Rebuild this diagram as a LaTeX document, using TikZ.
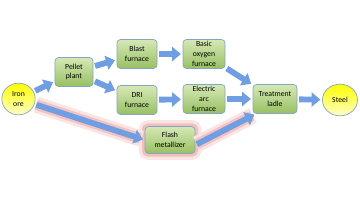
\documentclass[tikz,border=0pt]{standalone}
\usepackage{fontspec}
\setmainfont{Carlito}
\usetikzlibrary{shapes.geometric,arrows.meta,positioning,backgrounds}

\definecolor{boxtop}{RGB}{214,232,182}
\definecolor{boxbot}{RGB}{152,192,98}
\definecolor{boxline}{RGB}{135,165,195}
\definecolor{arrowblue}{RGB}{112,158,226}
\definecolor{glowred}{RGB}{228,110,110}

\begin{document}
\begin{tikzpicture}[
    x=0.03cm, y=-0.03cm,
    % --- STYLES ---
    stage/.style={
        rectangle, rounded corners=3pt,
        draw=boxline, line width=0.6pt,
        top color=boxtop, bottom color=boxbot,
        minimum width=1.2cm,
        minimum height=0.87cm,
        align=center, font=\fontsize{6.6}{8.3}\selectfont,
        inner sep=1pt
    },
    terminal/.style={
        ellipse, draw=boxline, line width=0.6pt,
        top color=yellow, bottom color=yellow!22!white,
        minimum width=1cm, minimum height=0.95cm,
        align=center, font=\fontsize{6.6}{8.3}\selectfont,
        inner sep=0pt
    },
    glow/.style={
        preaction={draw=glowred!18, line width=11pt},
        preaction={draw=glowred!45, line width=5.5pt}
    },
    glowline/.style={
        preaction={draw=glowred!18, line width=14pt, -, shorten >=3pt},
        preaction={draw=glowred!42, line width=9pt, -, shorten >=4pt}
    },
    flow/.style={
        draw=arrowblue, line width=5pt,
        -{Triangle[width=12pt, length=7.5pt]},
        shorten <=1.5pt, shorten >=1.5pt
    }
]
\useasboundingbox (0,0) rectangle (360,203);

% ===== 1. NODES =====
\node[terminal] (iron) at (18.5, 99) {Iron\\ ore};
\node[stage, minimum width=1.14cm] (pellet) at (74, 72) {Pellet\\ plant};

% upper and lower furnace rows
\node[stage] (blast) at (137, 54) {Blast\\ furnace};
\node[stage] (dri) at (137, 100) {DRI\\ furnace};
\node[stage, minimum width=1.26cm] (bof) at (204, 54) {Basic\\ oxygen\\ furnace};
\node[stage, minimum width=1.26cm] (eaf) at (204, 99) {Electric\\ arc\\ furnace};

% new route
\node[stage, glow, minimum width=1.5cm, minimum height=0.81cm] (flash) at (170, 140) {Flash\\ metallizer};

\node[stage, minimum width=1.32cm] (ladle) at (275, 99) {Treatment\\ ladle};
\node[terminal, minimum width=1.05cm] (steel) at (340, 100) {Steel};

% ===== 2. CONNECTIONS =====
\draw[flow] (iron) -- (pellet);
\draw[flow] (pellet) -- (blast);
\draw[flow] (pellet) -- (dri);
\draw[flow] (blast) -- (bof);
\draw[flow] (dri) -- (eaf);
\draw[flow] (bof) -- (ladle);
\draw[flow] (eaf) -- (ladle);
\draw[flow] (ladle) -- (steel);

% Flash route (highlighted)
\draw[flow, glowline] (iron) -- (flash.west);
\draw[flow, glowline] ([yshift=-1.5mm]flash.east) -- ([xshift=1mm]ladle.south west);

\end{tikzpicture}
\end{document}
